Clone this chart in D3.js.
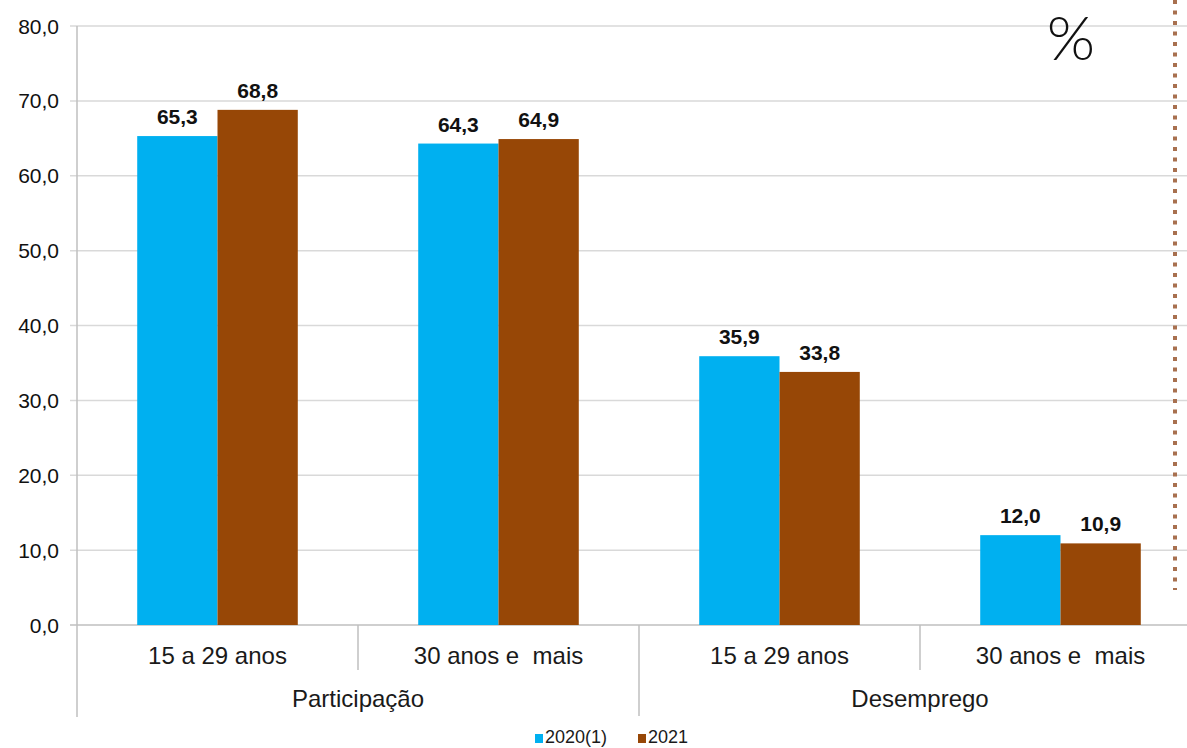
<!DOCTYPE html>
<html>
<head>
<meta charset="utf-8">
<script src="https://cdn.jsdelivr.net/npm/d3@7"></script>
<style>
  body { margin: 0; background: #fff; }
  svg { display: block; font-family: "Liberation Sans", Arial, sans-serif; }
</style>
</head>
<body>
<svg id="chart" width="1187" height="748"></svg>
<script>
// chart data
const groups = ['Participação', 'Desemprego'];
const ageLabels = ['15 a 29 anos', '30 anos e  mais'];
const seriesNames = ['2020(1)', '2021'];
const values2020 = [65.3, 64.3, 35.9, 12.0];
const values2021 = [68.8, 64.9, 33.8, 10.9];
const yTicks = [0, 10, 20, 30, 40, 50, 60, 70, 80];

const colors = ['#00b0f0', '#974706'];
const margin = { top: 26, left: 77, bottom: 123 };
const width = 1200;
const height = 748;

const svg = d3.select('#chart');

const cats = [];
groups.forEach((g, gi) => ageLabels.forEach((a, ai) => cats.push({ id: gi * 2 + ai, group: g, label: a })));

const x = d3.scaleBand()
    .domain(cats.map(d => d.id))
    .range([margin.left, width + 1])
    .padding(0);

const xInner = d3.scaleBand()
    .domain(seriesNames)
    .range([0, x.bandwidth()])
    .paddingInner(0)
    .paddingOuter(0.75);

const y = d3.scaleLinear()
    .domain([0, 80])
    .range([height - margin.bottom, margin.top]);

const fmt = v => d3.format('.1f')(v).replace('.', ',');

// gridlines
svg.append('g')
    .selectAll('line')
    .data(yTicks)
    .join('line')
    .attr('x1', margin.left - 7)
    .attr('x2', 1187)
    .attr('y1', d => y(d))
    .attr('y2', d => y(d))
    .attr('stroke', d => d === 0 ? '#bfbfbf' : '#d9d9d9')
    .attr('stroke-width', 1.5);

// y labels
svg.append('g')
    .selectAll('text')
    .data(yTicks)
    .join('text')
    .attr('x', 59)
    .attr('y', d => y(d))
    .attr('dy', '0.36em')
    .attr('text-anchor', 'end')
    .attr('font-size', 21)
    .attr('fill', '#111')
    .text(fmt);

// y axis line
svg.append('line')
    .attr('x1', margin.left).attr('x2', margin.left)
    .attr('y1', y(80)).attr('y2', 717)
    .attr('stroke', '#bfbfbf').attr('stroke-width', 1.5);

// category separators
const seps = [
    { x: x(1), y2: 670 },
    { x: x(2), y2: 716 },
    { x: x(3), y2: 670 }
];
svg.append('g')
    .selectAll('line')
    .data(seps)
    .join('line')
    .attr('x1', d => d.x).attr('x2', d => d.x)
    .attr('y1', y(0)).attr('y2', d => d.y2)
    .attr('stroke', '#bfbfbf').attr('stroke-width', 1.5);

// bars
const rows = cats.map((c, i) => ({ id: c.id, vals: [values2020[i], values2021[i]] }));
const barG = svg.append('g');
rows.forEach(r => {
    r.vals.forEach((v, si) => {
        const bx = x(r.id) + xInner(seriesNames[si]);
        barG.append('rect')
            .attr('x', bx)
            .attr('y', y(v))
            .attr('width', xInner.bandwidth())
            .attr('height', y(0) - y(v))
            .attr('fill', colors[si]);
        barG.append('text')
            .attr('x', bx + xInner.bandwidth() / 2)
            .attr('y', y(v) - 12)
            .attr('text-anchor', 'middle')
            .attr('font-size', 21)
            .attr('font-weight', 'bold')
            .attr('fill', '#111')
            .text(fmt(v));
    });
});

// category labels
svg.append('g')
    .selectAll('text')
    .data(cats)
    .join('text')
    .attr('x', d => x(d.id) + x.bandwidth() / 2)
    .attr('y', 664)
    .attr('text-anchor', 'middle')
    .attr('font-size', 24)
    .attr('fill', '#1a1a1a')
    .attr('xml:space', 'preserve')
    .style('white-space', 'pre')
    .text(d => d.label);

// group labels
svg.append('g')
    .selectAll('text')
    .data(groups)
    .join('text')
    .attr('x', (d, i) => (x(i * 2) + x(i * 2 + 1) + x.bandwidth()) / 2)
    .attr('y', 707)
    .attr('text-anchor', 'middle')
    .attr('font-size', 24)
    .attr('fill', '#1a1a1a')
    .text(d => d);

// legend
const legendX = [535, 638];
const legend = svg.append('g');
seriesNames.forEach((s, i) => {
    legend.append('rect')
        .attr('x', legendX[i]).attr('y', 734)
        .attr('width', 8).attr('height', 9)
        .attr('fill', colors[i]);
    legend.append('text')
        .attr('x', legendX[i] + 10).attr('y', 743)
        .attr('font-size', 18)
        .attr('fill', '#1a1a1a')
        .text(s);
});

// percent sign
svg.append('text')
    .attr('x', 1071).attr('y', 60)
    .attr('text-anchor', 'middle')
    .attr('font-size', 62)
    .attr('font-weight', 300)
    .attr('font-family', 'Lato, "Open Sans", sans-serif')
    .attr('fill', '#111')
    .text('%');

// dotted vertical line at right
svg.append('line')
    .attr('x1', 1175).attr('x2', 1175)
    .attr('y1', 0).attr('y2', 590)
    .attr('stroke', '#a8704f')
    .attr('stroke-width', 4)
    .attr('stroke-dasharray', '4 6.5');
</script>
</body>
</html>
